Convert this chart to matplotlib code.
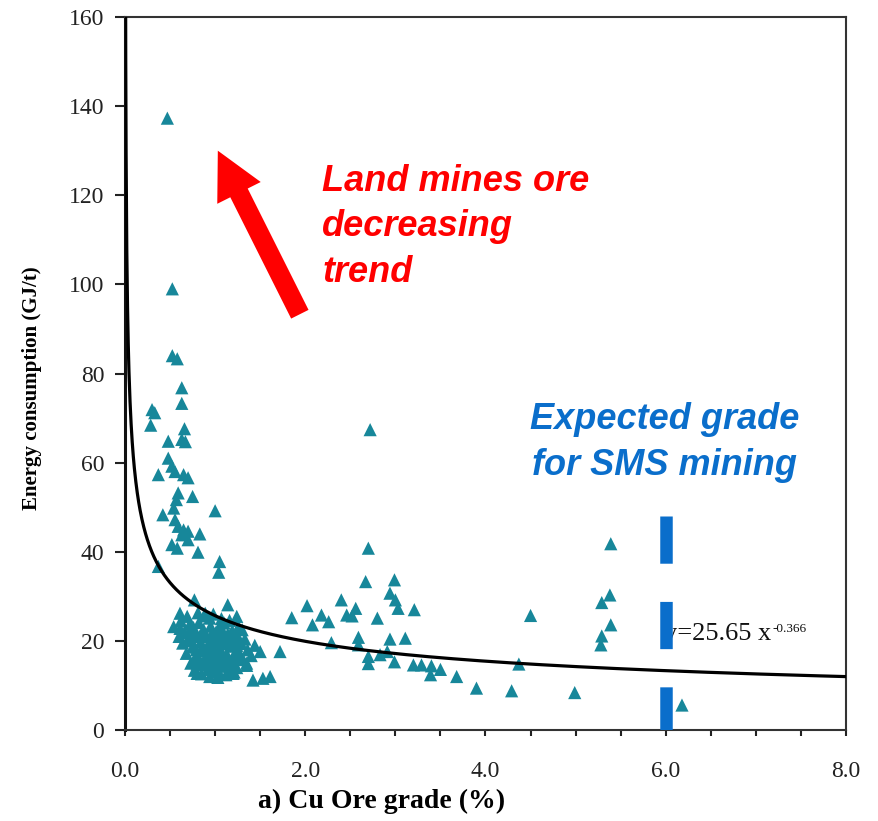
import matplotlib
matplotlib.use('Agg')
import matplotlib.pyplot as plt
from matplotlib.ticker import MultipleLocator, FormatStrFormatter
import numpy as np

# Cu ore grade (%) and energy consumption (GJ/t)
grade = [0.47, 0.525, 0.525, 0.58, 0.63, 0.63, 0.30, 0.33, 0.285, 0.66, 0.63, 0.67,
         0.48, 0.48, 0.52, 0.555, 0.65, 0.70, 0.37, 0.59, 0.57, 0.75, 0.54, 1.00,
         0.42, 0.555, 0.59, 0.65, 0.70, 0.63, 0.70, 0.83, 0.52, 0.58, 0.81, 1.05,
         1.04, 0.37, 0.77, 1.14, 0.61, 1.24, 0.89, 0.94, 1.85, 2.02, 2.08, 1.50,
         1.72, 1.35, 1.42, 1.53, 1.61, 0.83, 0.80, 1.05, 1.20, 0.54, 0.61,
         # dense cluster around 1 %
         0.62, 0.66, 0.70, 0.72, 0.75, 0.78, 0.80, 0.82, 0.84, 0.86, 0.87, 0.89,
         0.90, 0.92, 0.93, 0.95, 0.96, 0.97, 0.99, 1.00, 1.01, 1.02, 1.04, 1.05,
         1.06, 1.08, 1.09, 1.10, 1.11, 1.13, 1.14, 1.15, 1.17, 1.19, 1.20, 1.22,
         1.24, 1.25, 1.27, 1.29, 1.31, 1.33, 1.36, 1.40, 1.44, 0.68, 0.73, 0.77,
         0.81, 0.85, 0.88, 0.94, 0.98, 1.03, 1.07, 1.12, 1.16, 1.21, 1.26, 0.64,
         0.60, 0.69, 0.76, 0.83, 0.91, 0.96, 1.01, 1.06, 1.12, 1.18, 1.23, 1.30,
         1.35, 0.74, 0.79, 0.86, 0.92, 0.97, 1.03, 1.08, 1.13, 1.18, 1.24, 0.71,
         0.80, 0.88, 0.95, 1.02, 1.09, 1.15, 1.27, 0.78, 0.85, 0.99, 1.10, 1.17,
         # 2 - 4 %
         2.72, 2.70, 2.67, 2.99, 2.94, 3.00, 3.03, 2.40, 2.18, 2.26, 2.46, 2.52,
         2.56, 2.80, 3.21, 2.29, 2.59, 2.59, 2.94, 3.11, 2.70, 2.70, 2.83, 2.91,
         2.99, 3.20, 3.29, 3.40, 3.50, 3.39, 3.68, 3.90,
         # above 4 %
         5.39, 5.38, 5.29, 4.50, 5.39, 5.29, 5.28, 4.37, 4.29, 4.99, 6.18]
energy = [137.3, 99.0, 84.0, 83.3, 76.8, 73.3, 71.9, 71.2, 68.4, 67.6, 65.2, 64.7,
          64.8, 61.0, 59.2, 58.0, 57.3, 56.6, 57.3, 53.2, 51.7, 52.4, 49.8, 49.2,
          48.3, 47.2, 45.7, 44.9, 44.6, 43.8, 42.7, 44.0, 41.6, 40.8, 39.9, 37.8,
          35.4, 36.7, 29.2, 28.1, 26.2, 25.5, 26.2, 25.1, 25.2, 27.9, 23.6, 17.6,
          17.6, 15.0, 11.2, 11.6, 12.0, 14.6, 12.7, 12.7, 12.7, 23.2, 22.8,
          24.5, 22.0, 20.5, 23.8, 18.6, 21.4, 16.9, 24.1, 19.7, 14.9, 22.6, 17.8,
          20.9, 13.6, 16.2, 23.3, 19.0, 21.8, 15.4, 17.6, 20.2, 13.1, 22.9, 18.4,
          16.0, 20.6, 14.3, 24.0, 19.3, 17.0, 21.5, 15.2, 18.8, 22.3, 16.5, 19.9,
          14.0, 21.0, 17.3, 19.4, 15.8, 20.4, 18.0, 16.7, 19.0, 17.2, 15.0, 13.4,
          26.3, 12.6, 25.6, 12.0, 26.0, 11.8, 25.0, 12.4, 24.6, 13.0, 23.2, 19.5,
          21.0, 25.5, 23.0, 21.0, 18.5, 14.0, 22.0, 20.0, 16.5, 13.5, 17.5, 22.5,
          14.5, 20.0, 18.0, 21.5, 19.0, 16.8, 19.8, 17.0, 20.5, 15.6, 19.0, 21.8,
          14.8, 15.8, 21.0, 15.0, 22.0, 20.3, 16.2, 16.3, 18.0, 20.6, 14.5, 21.3,
          67.4, 40.8, 33.3, 33.7, 30.7, 29.2, 27.3, 29.2, 25.8, 24.3, 25.8, 25.6,
          27.3, 25.1, 27.0, 19.6, 20.8, 19.1, 20.4, 20.6, 16.5, 14.9, 16.9, 17.6,
          15.3, 14.6, 14.6, 14.4, 13.6, 12.4, 12.0, 9.4,
          41.8, 30.3, 28.6, 25.7, 23.6, 21.1, 19.1, 14.8, 8.8, 8.4, 5.6]

# power law fit y = a * x^b, as printed on the chart
fit_a = 25.65
fit_b = -0.366
sms_grade = 6.0

teal = '#17879A'
blue = '#0A6ECB'

plt.rcParams['font.family'] = ['Liberation Serif', 'DejaVu Serif']
plt.rcParams['lines.scale_dashes'] = False

fig = plt.figure(figsize=(8.79, 8.21), dpi=100)
ax = fig.add_axes([125/879, 91/821, 721/879, 713/821])

# Scatter of copper mines
ax.scatter(grade, energy, marker='^', s=90, color=teal, edgecolors='none', zorder=2)

# Fitted curve
xf = np.linspace(0.004, 8.0, 2000)
ax.plot(xf, fit_a * xf ** fit_b, color='black', lw=2.3, zorder=3)

# Equation label (partly hidden behind the blue bar)
ax.text(5.98, 20.2, 'y=25.65 x', fontsize=19, va='baseline', ha='left', color='#111', zorder=3)
ax.text(7.18, 22.0, '-0.366', fontsize=9.5, va='baseline', ha='left', color='#111', zorder=3)

# Expected SMS grade, thick dashed blue line
ax.plot([sms_grade, sms_grade], [48, 0], color=blue, lw=9, solid_capstyle='butt',
        dash_capstyle='butt', linestyle=(0, (34, 27.5)), zorder=4)

# Annotations
ax.annotate('', xy=(1.03, 130.0), xytext=(1.94, 93.3),
            arrowprops=dict(arrowstyle='simple,head_length=3.4,head_width=3.5,tail_width=1.4',
                            mutation_scale=10, color='red', shrinkA=0, shrinkB=0, lw=0),
            zorder=5)
# va='baseline' on multi-line text anchors the last line
ax.text(2.19, 100.5, 'Land mines ore\ndecreasing\ntrend', color='red', fontsize=26,
        family=['Liberation Sans', 'DejaVu Sans'], weight='bold', style='italic',
        ha='left', va='baseline', linespacing=1.4)
ax.text(5.99, 57.3, 'Expected grade\nfor SMS mining', color=blue, fontsize=26,
        family=['Liberation Sans', 'DejaVu Sans'], weight='bold', style='italic',
        ha='center', va='baseline', multialignment='center', linespacing=1.4)

# Axes
ax.set_xlim(0, 8)
ax.set_ylim(0, 160)
ax.xaxis.set_major_locator(MultipleLocator(2))
ax.xaxis.set_minor_locator(MultipleLocator(0.5))
ax.xaxis.set_major_formatter(FormatStrFormatter('%.1f'))
ax.yaxis.set_major_locator(MultipleLocator(20))
ax.tick_params(axis='x', which='both', direction='out', length=4, width=1.5,
               labelsize=17, pad=18, colors='#222')
ax.tick_params(axis='y', which='major', direction='out', length=7, width=1.5,
               labelsize=17, pad=8, colors='#222')
for side in ['top', 'right', 'bottom']:
    ax.spines[side].set_linewidth(1.5)
    ax.spines[side].set_color('#333')
ax.spines['left'].set_linewidth(2.2)
ax.spines['left'].set_color('#111')

ax.set_xlabel('a) Cu Ore grade (%)', fontsize=20, weight='bold')
ax.xaxis.set_label_coords(0.356, -0.083)
ax.set_ylabel('Energy consumption (GJ/t)', fontsize=15, weight='bold')
ax.yaxis.set_label_coords(-0.115, 0.48)

fig.savefig('out.png', dpi=100)
